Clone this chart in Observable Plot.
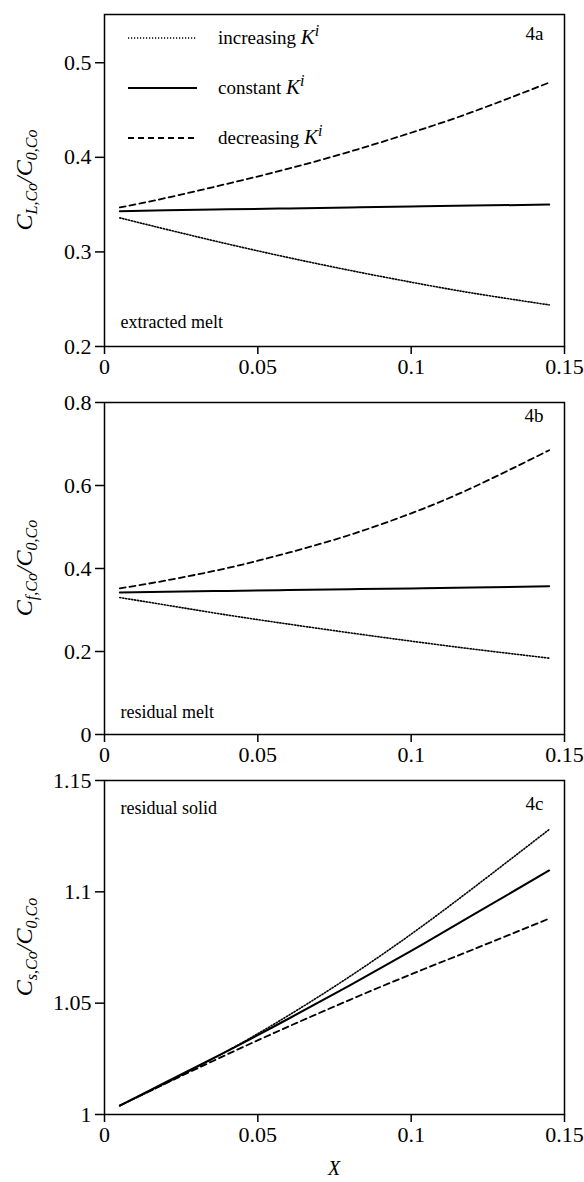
<!DOCTYPE html>
<html><head><meta charset="utf-8">
<script src="https://cdn.jsdelivr.net/npm/d3@7"></script>
<script src="https://cdn.jsdelivr.net/npm/@observablehq/plot@0.6"></script>
<style>
body{margin:0;background:#fff}
#chart svg{display:block}
#chart svg text{font-family:'Liberation Serif','Times New Roman',serif !important;}
</style>
</head><body><div id="chart"></div><script>
// ---- data ----
const xs = [0.005, 0.02, 0.04, 0.06, 0.08, 0.1, 0.12, 0.145];
const xTicks = [0, 0.05, 0.1, 0.15];

const aIncreasing = [0.336, 0.324, 0.3085, 0.294, 0.2805, 0.268, 0.2565, 0.244];
const aConstant   = [0.343, 0.344, 0.345, 0.346, 0.347, 0.348, 0.349, 0.350];
const aDecreasing = [0.347, 0.357, 0.372, 0.388, 0.406, 0.426, 0.448, 0.479];
const aTicks = [0.2, 0.3, 0.4, 0.5];

const bIncreasing = [0.330, 0.312, 0.288, 0.266, 0.245, 0.225, 0.206, 0.184];
const bConstant   = [0.342, 0.344, 0.346, 0.348, 0.350, 0.352, 0.354, 0.357];
const bDecreasing = [0.352, 0.371, 0.401, 0.438, 0.481, 0.533, 0.595, 0.685];
const bTicks = [0, 0.2, 0.4, 0.6, 0.8];

const cIncreasing = [1.004, 1.014, 1.0285, 1.0445, 1.062, 1.081, 1.1015, 1.128];
const cConstant   = [1.004, 1.0145, 1.0285, 1.043, 1.058, 1.0735, 1.0895, 1.1096];
const cDecreasing = [1.004, 1.014, 1.027, 1.0395, 1.0515, 1.063, 1.074, 1.088];
const cTicks = [1, 1.05, 1.1, 1.15];

const legendLabels = ["increasing", "constant", "decreasing"];
const notes = ["extracted melt", "residual melt", "residual solid"];
const tags = ["4a", "4b", "4c"];

// ---- drawing ----
const FONT = "'Liberation Serif', 'Times New Roman', serif";
const fmt = d => String(d);
const styles = [
  {strokeDasharray: "1.2,1.8", strokeWidth: 1.6},
  {strokeDasharray: null, strokeWidth: 2},
  {strokeDasharray: "6,4", strokeWidth: 1.8}
];

function panel(o) {
  const series = [o.inc, o.con, o.dec];
  const marks = [
    Plot.frame({stroke: "#000", strokeWidth: 1.5}),
    Plot.axisX({ticks: xTicks, tickSize: 8, tickPadding: 4, tickFormat: fmt, label: null, strokeWidth: 1.5,
      fontSize: 22, fontFamily: FONT, fill: "#000"}),
    Plot.axisY({ticks: o.yTicks, tickSize: 9, tickPadding: 4, tickFormat: fmt, label: null, strokeWidth: 1.5,
      fontSize: 22, fontFamily: FONT, fill: "#000"}),
    ...series.map((vals, i) => Plot.line(xs.map((x, j) => ({x, y: vals[j]})), {
      x: "x", y: "y", stroke: "#000", curve: "natural",
      strokeWidth: styles[i].strokeWidth, strokeDasharray: styles[i].strokeDasharray
    })),
    Plot.text([o.note], {frameAnchor: o.noteAnchor, dx: 16, dy: o.noteDy, textAnchor: "start", lineAnchor: "middle",
      fontSize: 18, fontFamily: FONT, fill: "#000"}),
    Plot.text([o.tag], {frameAnchor: "top-right", dx: -21, dy: o.tagDy, textAnchor: "end", lineAnchor: "middle",
      fontSize: 19, fontFamily: FONT, fill: "#000"})
  ];
  const svg = Plot.plot({
    width: 584, height: o.height, marginLeft: 104, marginRight: 20,
    marginTop: o.marginTop, marginBottom: o.marginBottom,
    style: {fontFamily: FONT, fontSize: "20px", color: "#000", background: "#fff"},
    x: {domain: [0, 0.15]},
    y: {domain: o.yDomain},
    marks
  });
  // y label
  const cy = o.marginTop + (o.height - o.marginTop - o.marginBottom) / 2;
  const t = d3.select(svg).append("text")
    .attr("transform", `translate(32,${cy}) rotate(-90)`)
    .attr("text-anchor", "middle").attr("font-style", "italic")
    .attr("font-family", FONT).attr("font-size", 24).attr("fill", "#000");
  t.append("tspan").text("C");
  t.append("tspan").attr("dy", 5).attr("font-size", 16).text(o.sub1);
  t.append("tspan").attr("dy", -5).text("/C");
  t.append("tspan").attr("dy", 5).attr("font-size", 16).text("0,Co");
  document.getElementById("chart").appendChild(svg);
  return svg;
}

const svgA = panel({inc: aIncreasing, con: aConstant, dec: aDecreasing, yDomain: [0.2, 0.551], yTicks: aTicks,
  height: 385, marginTop: 14, marginBottom: 39, note: notes[0], noteAnchor: "bottom-left", noteDy: -24,
  tag: tags[0], tagDy: 19, sub1: "L,Co"});
const svgB = panel({inc: bIncreasing, con: bConstant, dec: bDecreasing, yDomain: [0, 0.8], yTicks: bTicks,
  height: 381, marginTop: 17, marginBottom: 32, note: notes[1], noteAnchor: "bottom-left", noteDy: -22,
  tag: tags[1], tagDy: 13, sub1: "f,Co"});
const svgC = panel({inc: cIncreasing, con: cConstant, dec: cDecreasing, yDomain: [1, 1.15], yTicks: cTicks,
  height: 416, marginTop: 14, marginBottom: 68, note: notes[2], noteAnchor: "top-left", noteDy: 28,
  tag: tags[2], tagDy: 23, sub1: "s,Co"});

// legend in panel a
const lg = d3.select(svgA).append("g");
[38, 88, 138].forEach((y, i) => {
  lg.append("line").attr("x1", 128).attr("x2", 197).attr("y1", y).attr("y2", y)
    .attr("stroke", "#000").attr("stroke-width", styles[i].strokeWidth)
    .attr("stroke-dasharray", styles[i].strokeDasharray);
  const tx = lg.append("text").attr("x", 218).attr("y", y + 6).attr("text-anchor", "start")
    .attr("font-family", FONT).attr("font-size", 19).attr("fill", "#000");
  tx.append("tspan").text(legendLabels[i] + " ");
  tx.append("tspan").attr("font-style", "italic").attr("font-size", 21).text("K");
  tx.append("tspan").attr("font-style", "italic").attr("font-size", 16).attr("dy", -8).text("i");
});

// x label
d3.select(svgC).append("text").attr("x", 334).attr("y", 409)
  .attr("text-anchor", "middle").attr("font-style", "italic")
  .attr("font-family", FONT).attr("font-size", 20).attr("fill", "#000").text("X");
</script></body></html>
